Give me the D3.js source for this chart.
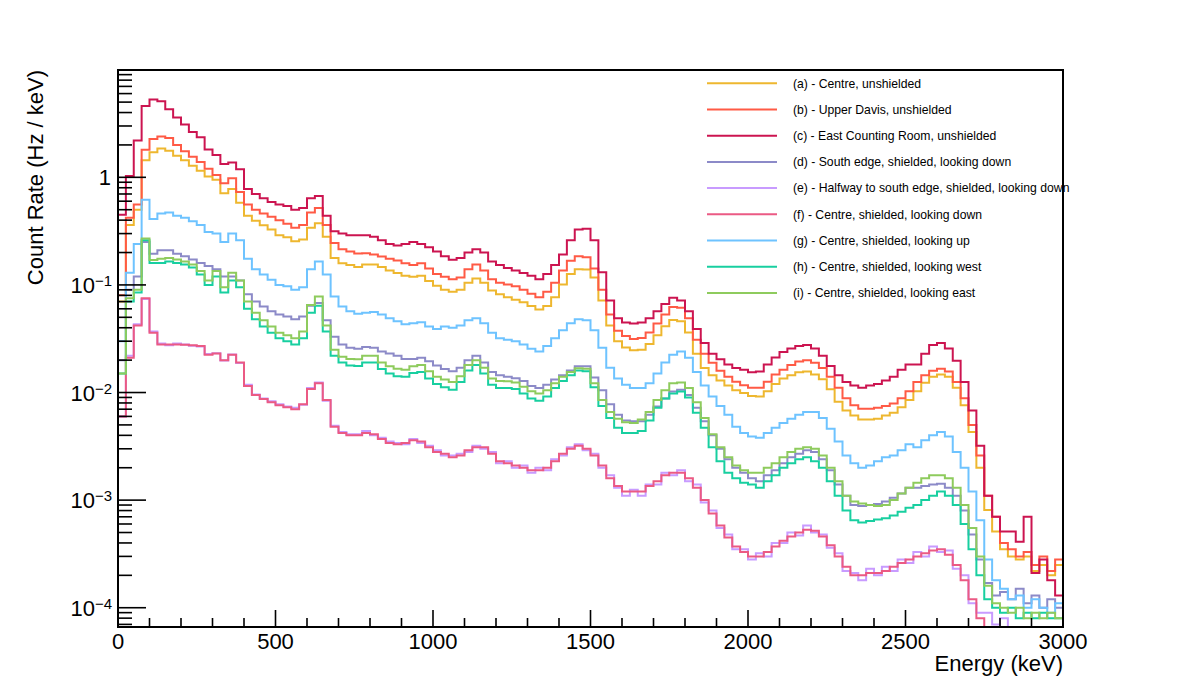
<!DOCTYPE html>
<html lang="en">

<head>
    <meta charset="UTF-8">
    <title>Count rate spectra</title>
    <style>
        body {
            margin: 0;
            background: #fff;
        }

        svg text {
            font-family: "Liberation Sans", Arial, Helvetica, sans-serif;
            fill: #000;
        }
    </style>
</head>

<body>
    <svg id="chart" width="1182" height="696"></svg>

    <script src="https://d3js.org/d3.v7.min.js"></script>
    <script>
        // 25 keV bins from 0 to 3000 keV, rates in Hz / keV
        const binWidth = 25;

        const legendLabels = [
            "(a) - Centre, unshielded",
            "(b) - Upper Davis, unshielded",
            "(c) - East Counting Room, unshielded",
            "(d) - South edge, shielded, looking down",
            "(e) - Halfway to south edge, shielded, looking down",
            "(f) - Centre, shielded, looking down",
            "(g) - Centre, shielded, looking up",
            "(h) - Centre, shielded, looking west",
            "(i) - Centre, shielded, looking east"
        ];

        const seriesColors = ["#eeb72f", "#ff5a45", "#cc1450", "#8c8ac8", "#c89bff", "#eb5a84", "#6ec3ff", "#18cfa0", "#8ecb5d"];

        const rateA = [
            0.07, 0.36, 0.5, 1.44, 1.71, 1.85, 1.77, 1.59, 1.44, 1.28,
            1.15, 1.02, 0.95, 0.71, 0.78, 0.58, 0.44, 0.395, 0.358, 0.327,
            0.29, 0.277, 0.255, 0.264, 0.34, 0.375, 0.28, 0.178, 0.159, 0.153,
            0.147, 0.155, 0.155, 0.147, 0.136, 0.129, 0.122, 0.119, 0.122, 0.109,
            0.098, 0.09, 0.0866, 0.09, 0.105, 0.115, 0.105, 0.0886, 0.082, 0.077,
            0.0727, 0.0689, 0.0638, 0.0592, 0.0638, 0.077, 0.101, 0.126, 0.14, 0.139,
            0.117, 0.0716, 0.042, 0.0299, 0.0262, 0.0247, 0.025, 0.0283, 0.034, 0.0414,
            0.0471, 0.046, 0.0361, 0.0229, 0.0169, 0.0145, 0.0129, 0.0116, 0.0105, 0.0099,
            0.0093, 0.0092, 0.0103, 0.012, 0.0135, 0.0145, 0.0154, 0.0157, 0.0147, 0.0133,
            0.0107, 0.0082, 0.0068, 0.0061, 0.0056, 0.0056, 0.0057, 0.0061, 0.0065, 0.0073,
            0.0085, 0.0103, 0.0123, 0.014, 0.0147, 0.014, 0.0111, 0.0076, 0.0043, 0.002,
            0.00081, 0.00051, 0.00035, 0.0003, 0.00028, 0.0003, 0.00022, 0.00025, 0.0002, 0.00025
        ];

        const rateB = [
            0.08, 0.42, 0.56, 1.8, 2.27, 2.4, 2.32, 2.0, 1.75, 1.55,
            1.39, 1.2, 1.05, 0.88, 0.98, 0.73, 0.56, 0.5, 0.46, 0.43,
            0.40, 0.37, 0.34, 0.36, 0.47, 0.52, 0.36, 0.245, 0.215, 0.205,
            0.196, 0.197, 0.192, 0.184, 0.175, 0.169, 0.159, 0.153, 0.159, 0.142,
            0.126, 0.119, 0.113, 0.117, 0.14, 0.155, 0.136, 0.113, 0.105, 0.101,
            0.097, 0.09, 0.083, 0.077, 0.0866, 0.105, 0.136, 0.168, 0.185, 0.181,
            0.142, 0.09, 0.053, 0.0375, 0.0335, 0.0315, 0.0322, 0.0361, 0.0437, 0.053,
            0.0624, 0.0615, 0.049, 0.031, 0.0229, 0.0189, 0.0159, 0.014, 0.0126, 0.0117,
            0.0111, 0.0111, 0.0126, 0.0147, 0.0163, 0.018, 0.0194, 0.02, 0.0189, 0.0169,
            0.014, 0.0111, 0.00885, 0.0076, 0.00705, 0.00705, 0.0072, 0.0075, 0.0079, 0.00885,
            0.0103, 0.0125, 0.0145, 0.0159, 0.0166, 0.0157, 0.0125, 0.00885, 0.005, 0.0026,
            0.0011, 0.0007, 0.0004, 0.00035, 0.0003, 0.00033, 0.00025, 0.0003, 0.00022, 0.00028
        ];

        const rateC = [
            0.45, 1.03, 2.2, 4.6, 5.3, 5.1, 4.3, 3.6, 3.1, 2.64,
            2.36, 1.81, 1.61, 1.33, 1.37, 1.19, 0.78, 0.70, 0.64, 0.59,
            0.56, 0.54, 0.50, 0.52, 0.64, 0.67, 0.44, 0.315, 0.30, 0.29,
            0.29, 0.29, 0.28, 0.26, 0.24, 0.232, 0.24, 0.25, 0.24, 0.224,
            0.204, 0.185, 0.171, 0.178, 0.2, 0.215, 0.2, 0.165, 0.153, 0.144,
            0.136, 0.129, 0.122, 0.113, 0.126, 0.153, 0.192, 0.26, 0.327, 0.332,
            0.26, 0.131, 0.0716, 0.049, 0.0447, 0.0437, 0.0447, 0.049, 0.057, 0.0664,
            0.076, 0.0716, 0.057, 0.039, 0.0288, 0.0229, 0.0204, 0.0182, 0.0169, 0.0163,
            0.0154, 0.0157, 0.0182, 0.0212, 0.0238, 0.0257, 0.027, 0.0277, 0.0257, 0.022,
            0.0176, 0.0145, 0.0125, 0.0116, 0.0111, 0.0116, 0.012, 0.0129, 0.014, 0.0163,
            0.0182, 0.0182, 0.0229, 0.0277, 0.0288, 0.0257, 0.0197, 0.0125, 0.0068, 0.0032,
            0.0011, 0.0007, 0.00051, 0.00051, 0.00041, 0.0007, 0.00021, 0.00028, 0.00018, 0.00013
        ];

        const rateD = [
            0.02, 0.09, 0.12, 0.25, 0.195, 0.21, 0.21, 0.195, 0.185, 0.172,
            0.16, 0.15, 0.14, 0.12, 0.12, 0.11, 0.082, 0.07, 0.063, 0.057,
            0.053, 0.051, 0.048, 0.051, 0.064, 0.068, 0.047, 0.033, 0.028, 0.026,
            0.0255, 0.0265, 0.026, 0.024, 0.023, 0.022, 0.0205, 0.0205, 0.021, 0.0195,
            0.0178, 0.0165, 0.0158, 0.017, 0.02, 0.022, 0.019, 0.0155, 0.0145, 0.014,
            0.0136, 0.0128, 0.0115, 0.011, 0.0118, 0.0132, 0.0145, 0.016, 0.0175, 0.0175,
            0.0138, 0.0105, 0.0078, 0.0062, 0.0055, 0.0054, 0.0054, 0.0062, 0.0074, 0.0088,
            0.0102, 0.0106, 0.0095, 0.0072, 0.0054, 0.004, 0.003, 0.0024, 0.002, 0.0018,
            0.0016, 0.0015, 0.0017, 0.0019, 0.0022, 0.0025, 0.0027, 0.0029, 0.0028, 0.0024,
            0.0019, 0.0014, 0.0011, 0.0009, 0.00088, 0.0009, 0.00092, 0.00097, 0.00105, 0.00115,
            0.0013, 0.0013, 0.00135, 0.0014, 0.00142, 0.0013, 0.0011, 0.0008, 0.00048, 0.00028,
            0.00017, 0.00013, 0.00014, 0.00012, 0.00015, 0.00011, 0.00013, 0.0001, 0.00012, 0.0001
        ];

        const rateE = [
            0.006, 0.022, 0.043, 0.074, 0.037, 0.0285, 0.0275, 0.0285, 0.028, 0.0272,
            0.0268, 0.0228, 0.0232, 0.0198, 0.0226, 0.0188, 0.0118, 0.0096, 0.0088, 0.0083,
            0.0078, 0.0074, 0.0072, 0.0077, 0.011, 0.0124, 0.0084, 0.0049, 0.0043, 0.0041,
            0.0041, 0.0044, 0.004, 0.0038, 0.0035, 0.0034, 0.0033, 0.0037, 0.0034, 0.0032,
            0.0029, 0.0026, 0.0026, 0.0027, 0.0028, 0.0032, 0.003, 0.0028, 0.0022, 0.0023,
            0.002, 0.0021, 0.0018, 0.002, 0.0019, 0.0024, 0.0026, 0.0031, 0.0033, 0.0029,
            0.0027, 0.002, 0.0017, 0.0013, 0.0011, 0.00125, 0.0011, 0.0014, 0.0014, 0.0018,
            0.0017, 0.0019, 0.0015, 0.0014, 0.00095, 0.0008, 0.00055, 0.00048, 0.00035, 0.00035,
            0.00028, 0.00032, 0.0003, 0.0004, 0.0004, 0.0005, 0.00047, 0.00058, 0.0005, 0.00048,
            0.00036, 0.00032, 0.00022, 0.00021, 0.00018, 0.00023, 0.0002, 0.00024, 0.00022, 0.00028,
            0.00026, 0.00033, 0.0003, 0.00037, 0.00033, 0.00034, 0.00023, 0.0002, 0.00011, 0.00009,
            0.00009, 0.00007, 0.00008, 0.00005, 0.00006, 0.00004, 0.00005, 0.00004, 0.00004, 0.00004
        ];

        const rateF = [
            0.006, 0.021, 0.042, 0.075, 0.036, 0.028, 0.028, 0.028, 0.0278, 0.0275,
            0.027, 0.0225, 0.023, 0.02, 0.0225, 0.019, 0.0115, 0.0095, 0.0087, 0.0081,
            0.0076, 0.0073, 0.007, 0.0078, 0.0108, 0.0122, 0.0085, 0.0048, 0.0042, 0.004,
            0.004, 0.0042, 0.0041, 0.0037, 0.0034, 0.0033, 0.0034, 0.0036, 0.0035, 0.0031,
            0.0028, 0.0027, 0.0025, 0.0026, 0.0029, 0.0031, 0.0031, 0.0027, 0.0023, 0.0022,
            0.0021, 0.002, 0.0019, 0.0019, 0.002, 0.0023, 0.0027, 0.003, 0.0032, 0.003,
            0.0026, 0.0021, 0.0016, 0.00135, 0.0012, 0.0012, 0.0012, 0.00135, 0.0015, 0.0017,
            0.0018, 0.0018, 0.0016, 0.0013, 0.001, 0.00075, 0.00058, 0.00045, 0.00037, 0.00033,
            0.0003, 0.0003, 0.00033, 0.00037, 0.00042, 0.00046, 0.0005, 0.00053, 0.00052, 0.00046,
            0.00038, 0.0003, 0.00024, 0.0002, 0.0002, 0.00021, 0.00021, 0.00022, 0.00024, 0.00026,
            0.00028, 0.0003, 0.00032, 0.00034, 0.00035, 0.00031, 0.00025, 0.00018, 0.00012, 0.00008,
            0.00005, 0.00004, 0.00004, 0.00004, 0.00004, 0.00004, 0.00004, 0.00004, 0.00004, 0.00004
        ];

        const rateG = [
            0.03, 0.13, 0.24, 0.62, 0.41, 0.46, 0.47, 0.44, 0.42, 0.39,
            0.36, 0.31, 0.30, 0.25, 0.3, 0.26, 0.175, 0.14, 0.125, 0.112,
            0.1, 0.097, 0.09, 0.095, 0.14, 0.165, 0.125, 0.078, 0.063, 0.057,
            0.054, 0.055, 0.056, 0.053, 0.049, 0.046, 0.043, 0.044, 0.045, 0.041,
            0.039, 0.041, 0.040, 0.042, 0.047, 0.049, 0.044, 0.036, 0.032, 0.031,
            0.030, 0.028, 0.0255, 0.024, 0.027, 0.032, 0.038, 0.044, 0.048, 0.047,
            0.038, 0.026, 0.017, 0.0135, 0.0118, 0.011, 0.011, 0.0122, 0.015, 0.019,
            0.0225, 0.024, 0.021, 0.0155, 0.0116, 0.0092, 0.0075, 0.0062, 0.0048, 0.0042,
            0.0039, 0.0038, 0.0042, 0.0047, 0.0052, 0.0057, 0.0062, 0.0066, 0.0066, 0.0058,
            0.0046, 0.0035, 0.0026, 0.0022, 0.002, 0.0021, 0.0023, 0.0025, 0.0026, 0.0029,
            0.0033, 0.0031, 0.0036, 0.004, 0.0043, 0.0039, 0.0028, 0.002, 0.0012, 0.00065,
            0.00028, 0.00018, 0.00015, 0.00012, 0.00013, 0.0001, 0.00012, 0.0001, 0.00009, 0.00011
        ];

        const rateH = [
            0.015, 0.07, 0.085, 0.26, 0.16, 0.16, 0.165, 0.16, 0.155, 0.145,
            0.125, 0.1, 0.12, 0.085, 0.11, 0.095, 0.06, 0.048, 0.041, 0.036,
            0.032, 0.03, 0.028, 0.032, 0.055, 0.064, 0.037, 0.022, 0.019, 0.0178,
            0.0176, 0.019, 0.019, 0.0165, 0.015, 0.0142, 0.014, 0.0152, 0.0155, 0.0135,
            0.012, 0.0112, 0.0106, 0.0125, 0.016, 0.018, 0.015, 0.0118, 0.011, 0.011,
            0.0108, 0.0098, 0.0088, 0.0084, 0.0092, 0.011, 0.0128, 0.0145, 0.016, 0.0158,
            0.0112, 0.0075, 0.0058, 0.0047, 0.0042, 0.0042, 0.0044, 0.0055, 0.0072, 0.0088,
            0.0098, 0.0102, 0.009, 0.0065, 0.0047, 0.0031, 0.0023, 0.0018, 0.0016, 0.00145,
            0.0014, 0.0013, 0.0015, 0.0017, 0.002, 0.0022, 0.0024, 0.0025, 0.0023, 0.002,
            0.0015, 0.0011, 0.0008, 0.00065, 0.00062, 0.00064, 0.00066, 0.00068, 0.00072, 0.00078,
            0.00085, 0.0009, 0.001, 0.0011, 0.0012, 0.0011, 0.0009, 0.0006, 0.00035, 0.0002,
            0.00012, 0.0001, 0.00009, 0.0001, 0.00008, 0.00009, 0.00008, 0.00009, 0.00008, 0.00008
        ];

        const rateI = [
            0.015, 0.075, 0.09, 0.27, 0.17, 0.175, 0.178, 0.172, 0.165, 0.155,
            0.135, 0.11, 0.135, 0.095, 0.13, 0.11, 0.07, 0.055, 0.047, 0.041,
            0.036, 0.034, 0.032, 0.037, 0.065, 0.078, 0.042, 0.025, 0.0215, 0.0205,
            0.0204, 0.022, 0.022, 0.019, 0.0175, 0.0166, 0.0163, 0.0175, 0.018, 0.0158,
            0.014, 0.0132, 0.0125, 0.0142, 0.018, 0.02, 0.017, 0.0135, 0.0128, 0.0127,
            0.0124, 0.0113, 0.0103, 0.0098, 0.0105, 0.0122, 0.014, 0.0155, 0.0168, 0.0166,
            0.0122, 0.0085, 0.0066, 0.0057, 0.0053, 0.0052, 0.0056, 0.0066, 0.0085, 0.0105,
            0.0122, 0.0124, 0.011, 0.0081, 0.0058, 0.0041, 0.0031, 0.0025, 0.0021, 0.0019,
            0.0018, 0.0018, 0.002, 0.0022, 0.0025, 0.0028, 0.003, 0.0031, 0.003, 0.0026,
            0.002, 0.0015, 0.0011, 0.00097, 0.00093, 0.0009, 0.00088, 0.0009, 0.001, 0.00115,
            0.0013, 0.00145, 0.0016, 0.0017, 0.0017, 0.0016, 0.0013, 0.0009, 0.00055, 0.0003,
            0.00016, 0.00011, 0.0001, 0.00009, 0.0001, 0.00008, 0.00009, 0.00008, 0.00009, 0.00008
        ];

        const allRates = [rateA, rateB, rateC, rateD, rateE, rateF, rateG, rateH, rateI];

        const xTickMajor = [0, 500, 1000, 1500, 2000, 2500, 3000];
        const yDecades = [1e-4, 1e-3, 1e-2, 1e-1, 1];

        // Frame and scales
        const frame = { left: 118, right: 1063, top: 70, bottom: 627 };
        const yMin = 6.62e-5, yMax = 9.94;

        const x = d3.scaleLinear().domain([0, 3000]).range([frame.left, frame.right]);
        const y = d3.scaleLog().domain([yMin, yMax]).range([frame.bottom, frame.top]);

        const svg = d3.select("#chart");

        svg.append("defs").append("clipPath").attr("id", "plotClip")
            .append("rect")
            .attr("x", frame.left).attr("y", frame.top)
            .attr("width", frame.right - frame.left)
            .attr("height", frame.bottom - frame.top);

        // Step histograms
        const stepLine = d3.line()
            .x(d => x(d[0]))
            .y(d => y(Math.min(yMax, Math.max(yMin, d[1]))))
            .curve(d3.curveStepAfter);

        function histPoints(rates) {
            const pts = [[0, yMin]];
            rates.forEach((v, i) => pts.push([i * binWidth, v]));
            pts.push([rates.length * binWidth, rates[rates.length - 1]]);
            return pts;
        }

        const histGroup = svg.append("g").attr("clip-path", "url(#plotClip)");
        allRates.forEach((rates, i) => {
            histGroup.append("path")
                .attr("d", stepLine(histPoints(rates)))
                .attr("fill", "none")
                .attr("stroke", seriesColors[i])
                .attr("stroke-width", 2);
        });

        // Ticks (drawn inward, ROOT style)
        const tickGroup = svg.append("g").attr("stroke", "#000").attr("stroke-width", 1.6);

        d3.range(0, 3001, 100).forEach(e => {
            const major = e % 500 === 0;
            tickGroup.append("line")
                .attr("x1", x(e)).attr("x2", x(e))
                .attr("y1", frame.bottom).attr("y2", frame.bottom - (major ? 17 : 9));
        });

        // decade ticks and 2..9 minor ticks, inside the visible range
        [1e-5, 1e-4, 1e-3, 1e-2, 1e-1, 1].forEach(dec => {
            d3.range(1, 10).forEach(m => {
                const val = dec * m;
                if (val < yMin || val > yMax) return;
                tickGroup.append("line")
                    .attr("x1", frame.left).attr("x2", frame.left + (m === 1 ? 28 : 14))
                    .attr("y1", y(val)).attr("y2", y(val));
            });
        });

        // Frame
        svg.append("rect")
            .attr("x", frame.left).attr("y", frame.top)
            .attr("width", frame.right - frame.left)
            .attr("height", frame.bottom - frame.top)
            .attr("fill", "none")
            .attr("stroke", "#000")
            .attr("stroke-width", 2);

        // X tick labels
        svg.append("g").selectAll("text")
            .data(xTickMajor)
            .join("text")
            .attr("x", d => x(d))
            .attr("y", 649)
            .attr("text-anchor", "middle")
            .attr("font-size", 22)
            .text(d => d);

        // Y tick labels
        yDecades.forEach(dec => {
            const ty = y(dec);
            const exp = Math.round(Math.log10(dec));
            if (exp === 0) {
                svg.append("text")
                    .attr("x", 111).attr("y", ty + 8)
                    .attr("text-anchor", "end")
                    .attr("font-size", 22)
                    .text("1");
            } else {
                svg.append("text")
                    .attr("x", 95).attr("y", ty + 8)
                    .attr("text-anchor", "end")
                    .attr("font-size", 22)
                    .text("10");
                svg.append("text")
                    .attr("x", 95).attr("y", ty + 1)
                    .attr("text-anchor", "start")
                    .attr("font-size", 15)
                    .text("\u2212" + Math.abs(exp));
            }
        });

        // Axis titles
        svg.append("text")
            .attr("x", frame.right).attr("y", 671)
            .attr("text-anchor", "end")
            .attr("font-size", 22)
            .text("Energy (keV)");

        svg.append("text")
            .attr("transform", `translate(43, ${frame.top}) rotate(-90)`)
            .attr("text-anchor", "end")
            .attr("font-size", 22)
            .text("Count Rate (Hz / keV)");

        // Legend
        const legend = svg.append("g");
        legendLabels.forEach((label, i) => {
            const ly = 83.3 + i * 26.2;
            legend.append("line")
                .attr("x1", 707).attr("x2", 777)
                .attr("y1", ly).attr("y2", ly)
                .attr("stroke", seriesColors[i])
                .attr("stroke-width", 2);
            legend.append("text")
                .attr("x", 793).attr("y", ly)
                .attr("dy", "0.35em")
                .attr("font-size", 12.2)
                .text(label);
        });
    </script>
</body>

</html>
